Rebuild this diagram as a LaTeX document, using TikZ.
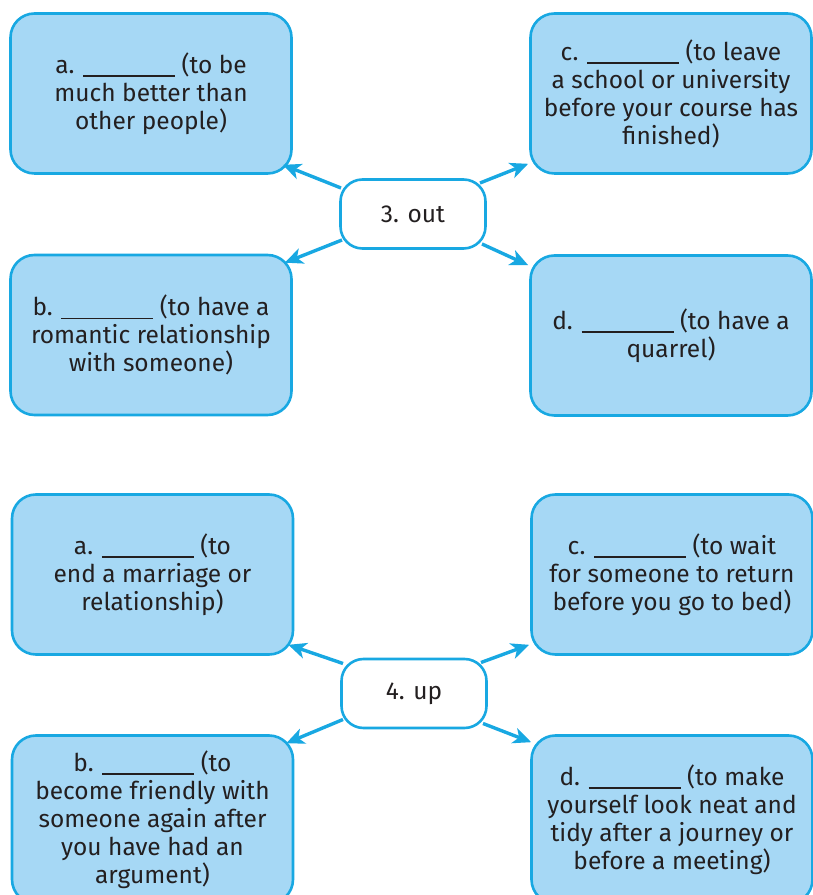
\documentclass[tikz,border=0pt]{standalone}
\usepackage{fontspec}
\setmainfont{Fira Sans}
\usetikzlibrary{arrows.meta,calc}
\definecolor{boxfill}{HTML}{A6D8F5}
\definecolor{edge}{HTML}{18A8E2}
\definecolor{ink}{HTML}{231F20}
% answer blank
\newcommand{\gap}{\rule[-3.5pt]{92pt}{1.3pt}}

\begin{document}
\begin{tikzpicture}[x=1pt,y=1pt,
  card/.style={draw=edge, fill=boxfill, line width=2.6pt, rounded corners=24pt,
    minimum width=281pt, minimum height=160pt, inner sep=0pt, outer sep=1.3pt,
    align=center, text=ink, font=\fontsize{24.5}{28}\selectfont},
  tallcard/.style={card, minimum height=168pt},
  hub/.style={draw=edge, fill=white, line width=2.6pt, rounded corners=22pt,
    minimum width=145pt, minimum height=69pt, inner sep=0pt, outer sep=1.3pt,
    text=ink, font=\fontsize{24.5}{28}\selectfont},
  link/.style={draw=edge, line width=3.4pt,
    -{Stealth[length=18pt,width=16pt,inset=5pt]}}]
\useasboundingbox (0,0) rectangle (813,895);

% ---------- group 3: out ----------
\node[card] (oa) at (151,801.5) {a. \gap{} (to be\\much better than\\other people)};
\node[card] (oc) at (671,801.5) {c. \gap{} (to leave\\a school or university\\before your course has\\finished)};
\node[card] (ob) at (151,560) {b. \gap{} (to have a\\romantic relationship\\with someone)};
\node[card] (od) at (671,559.5) {d. \gap{} (to have a\\quarrel)};
\node[hub] (out) at (413,681) {3. out};

\draw[link] ($(out.center)+(-72,26)$) -- ($(oa.south east)+(-10,10)$);
\draw[link] ($(out.center)+(67,31)$) -- ($(oc.south west)+(-1,11)$);
\draw[link] ($(out.center)+(-71,-26)$) -- ($(ob.north east)+(-8,-9)$);
\draw[link] ($(out.center)+(69,-30)$) -- ($(od.north west)+(-1,-11)$);

% ---------- group 4: up ----------
\node[card] (ua) at (152.5,320.5) {a. \gap{} (to\\end a marriage or\\relationship)};
\node[card] (uc) at (672,320.5) {c. \gap{} (to wait\\for someone to return\\before you go to bed)};
\node[tallcard] (ub) at (152.5,75.5) {b. \gap{} (to\\become friendly with\\someone again after\\you have had an\\argument)};
\node[tallcard] (ud) at (672,75.5) {d. \gap{} (to make\\yourself look neat and\\tidy after a journey or\\before a meeting)};
\node[hub] (up) at (414,201.5) {4. up};

\draw[link] ($(up.center)+(-71,30)$) -- ($(ua.south east)+(-6,11)$);
\draw[link] ($(up.center)+(67,31)$) -- ($(uc.south west)+(-1,11)$);
\draw[link] ($(up.center)+(-71,-26)$) -- ($(ub.north east)+(-8,-9)$);
\draw[link] ($(up.center)+(69,-30)$) -- ($(ud.north west)+(1,-8)$);
\end{tikzpicture}
\end{document}
